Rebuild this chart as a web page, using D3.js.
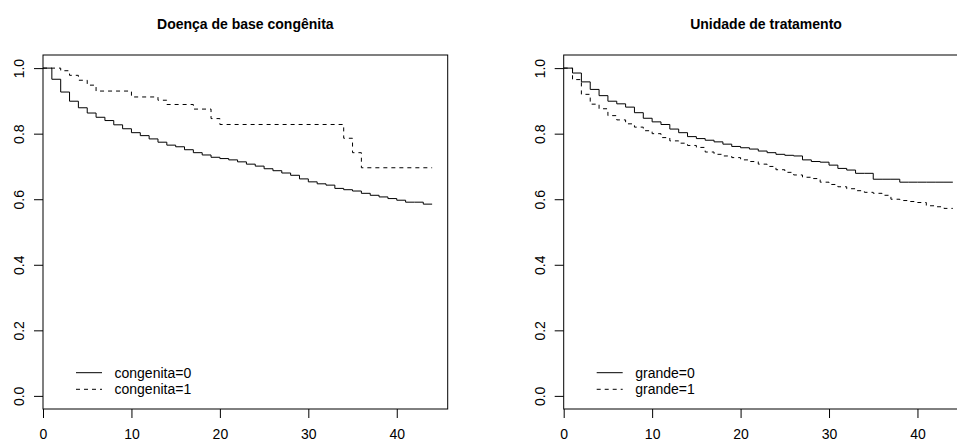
<!DOCTYPE html>
<html>
<head>
<meta charset="utf-8">
<script src="https://cdn.jsdelivr.net/npm/d3@7"></script>
<style>
  body { margin: 0; background: #fff; }
  text { font-family: "Liberation Sans", Arial, sans-serif; }
</style>
</head>
<body>
<div id="chart"></div>
<script>
// Kaplan-Meier curves (value holds from the time until the next one)
const monthTimes = [0, 1, 2, 3, 4, 5, 6, 7, 8, 9, 10, 11, 12, 13, 14, 15, 16, 17, 18, 19, 20, 21,
    22, 23, 24, 25, 26, 27, 28, 29, 30, 31, 32, 33, 34, 35, 36, 37, 38, 39, 40, 41, 42, 43];
const endTime = 44;

// Panel 1: congenita
const congenita0 = [1.000, 0.966, 0.927, 0.899, 0.879, 0.863, 0.850, 0.840, 0.827, 0.815, 0.803,
    0.794, 0.784, 0.774, 0.765, 0.760, 0.751, 0.742, 0.735, 0.728, 0.724, 0.720, 0.714, 0.707,
    0.701, 0.693, 0.687, 0.680, 0.673, 0.662, 0.653, 0.647, 0.643, 0.633, 0.629, 0.625, 0.618,
    0.612, 0.607, 0.602, 0.597, 0.591, 0.591, 0.585];
const congenita1Times = [0, 2, 3, 4, 5, 6, 10, 13, 14, 17, 19, 20, 34, 35, 36];
const congenita1 = [1.000, 0.992, 0.978, 0.963, 0.948, 0.930, 0.912, 0.902, 0.889, 0.875, 0.846,
    0.828, 0.786, 0.742, 0.696];

// Panel 2: grande
const grande0 = [1.000, 0.985, 0.958, 0.935, 0.916, 0.899, 0.891, 0.881, 0.864, 0.847, 0.836,
    0.828, 0.814, 0.803, 0.791, 0.785, 0.780, 0.775, 0.768, 0.761, 0.757, 0.753, 0.747, 0.742,
    0.737, 0.734, 0.732, 0.720, 0.715, 0.713, 0.704, 0.694, 0.689, 0.679, 0.679, 0.661, 0.661,
    0.661, 0.652, 0.652, 0.652, 0.652, 0.652, 0.652];
const grande1 = [1.000, 0.965, 0.920, 0.890, 0.876, 0.855, 0.842, 0.830, 0.820, 0.809, 0.800,
    0.788, 0.778, 0.771, 0.764, 0.758, 0.744, 0.737, 0.732, 0.727, 0.720, 0.715, 0.707, 0.700,
    0.690, 0.682, 0.674, 0.667, 0.663, 0.652, 0.645, 0.638, 0.632, 0.626, 0.621, 0.618, 0.612,
    0.600, 0.596, 0.593, 0.590, 0.580, 0.577, 0.572];

const xTicks = [0, 10, 20, 30, 40];
const yTicks = [0, 0.2, 0.4, 0.6, 0.8, 1.0];

const panels = [
    { title: "Doença de base congênita", left: 43,
      series: [
        { name: "congenita=0", times: monthTimes, surv: congenita0, dash: null },
        { name: "congenita=1", times: congenita1Times, surv: congenita1, dash: "4,4" }
      ] },
    { title: "Unidade de tratamento", left: 563.7,
      series: [
        { name: "grande=0", times: monthTimes, surv: grande0, dash: null },
        { name: "grande=1", times: monthTimes, surv: grande1, dash: "4,4" }
      ] }
];

const width = 957, height = 440;
const plotTop = 55, plotBottom = 409;
const plotWidth = 404.7;

const svg = d3.select("#chart")
    .append("svg")
    .attr("width", width)
    .attr("height", height)
    .style("background", "#fff");

panels.forEach(function(p) {
    const g = svg.append("g").attr("transform", `translate(${p.left},0)`);

    // survfit style: x starts at 0, 4% extra on the right
    const x = d3.scaleLinear().domain([0, endTime * 1.04]).range([0, plotWidth]);
    const y = d3.scaleLinear().domain([-0.04, 1.04]).range([plotBottom, plotTop]);

    // box
    g.append("rect")
        .attr("x", 0).attr("y", plotTop)
        .attr("width", plotWidth).attr("height", plotBottom - plotTop)
        .attr("fill", "none").attr("stroke", "#000").attr("stroke-width", 1);

    // x axis
    const xAxis = g.append("g")
        .attr("transform", `translate(0,${plotBottom})`)
        .call(d3.axisBottom(x).tickValues(xTicks).tickSize(9).tickSizeOuter(0).tickPadding(11.5));
    xAxis.select(".domain").remove();
    xAxis.selectAll("text").style("font-size", "14px").style("font-family", "Liberation Sans, Arial, sans-serif");

    // y axis, labels turned like R
    const yAxis = g.append("g")
        .call(d3.axisLeft(y).tickValues(yTicks).tickFormat(d3.format(".1f")).tickSize(9).tickSizeOuter(0));
    yAxis.select(".domain").remove();
    yAxis.selectAll("text")
        .attr("transform", "rotate(-90)")
        .attr("x", 0).attr("y", -19).attr("dy", null)
        .style("text-anchor", "middle")
        .style("font-size", "14px")
        .style("font-family", "Liberation Sans, Arial, sans-serif");

    // title
    g.append("text")
        .attr("x", plotWidth / 2)
        .attr("y", 29)
        .style("text-anchor", "middle")
        .style("font-size", "14px")
        .style("font-weight", "bold")
        .text(p.title);

    // step curves
    const line = d3.line()
        .x(d => x(d[0]))
        .y(d => y(d[1]))
        .curve(d3.curveStepAfter);

    p.series.forEach(function(s) {
        const pts = s.times.map((t, i) => [t, s.surv[i]]);
        pts.push([endTime, s.surv[s.surv.length - 1]]);
        g.append("path")
            .datum(pts)
            .attr("d", line)
            .attr("fill", "none")
            .attr("stroke", "#000")
            .attr("stroke-width", 1)
            .attr("stroke-dasharray", s.dash);
    });

    // legend
    const legend = g.append("g").attr("transform", `translate(33,372.7)`);
    p.series.forEach(function(s, i) {
        legend.append("line")
            .attr("x1", 0).attr("x2", 26)
            .attr("y1", i * 16.6).attr("y2", i * 16.6)
            .attr("stroke", "#000")
            .attr("stroke-dasharray", s.dash);
        legend.append("text")
            .attr("x", 38.5)
            .attr("y", i * 16.6 + 5)
            .style("font-size", "14px")
            .text(s.name);
    });
});
</script>
</body>
</html>
